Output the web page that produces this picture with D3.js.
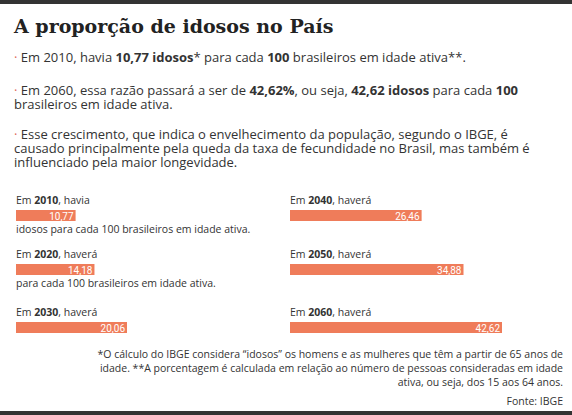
<!DOCTYPE html>
<html><head><meta charset="utf-8">
<script src="https://cdn.jsdelivr.net/npm/d3@7"></script>
<style>body{margin:0;background:#fff}</style></head>
<body><div id="chart"></div>
<script>
const years = ["2010", "2020", "2030", "2040", "2050", "2060"];
const values = [10.77, 14.18, 20.06, 26.46, 34.88, 42.62];
const verbs = [", havia", ", haverá", ", haverá", ", haverá", ", haverá", ", haverá"];
const notes = ["idosos para cada 100 brasileiros em idade ativa.", "para cada 100 brasileiros em idade ativa.", "", "", "", ""];

const W = 572, H = 415;
const svg = d3.select("#chart").append("svg").attr("width", W).attr("height", H)
  .style("font-family", "'Open Sans', sans-serif");
const ink = "#333";

svg.append("rect").attr("x", 0).attr("y", 0).attr("width", W).attr("height", 4).attr("fill", "#333");
svg.append("rect").attr("x", 0).attr("y", 411).attr("width", W).attr("height", 4).attr("fill", "#333");

svg.append("text").attr("x", 14).attr("y", 33)
  .style("font-family", "'DejaVu Serif', serif").style("font-weight", "bold")
  .style("font-size", "19px").attr("fill", "#222").text("A proporção de idosos no País");

// paragraph lines: array of [text, bold] runs
const para = [
  {y: 62, bullet: true, runs: [["Em 2010, havia ", 0], ["10,77 idosos", 1], ["* para cada ", 0], ["100", 1], [" brasileiros em idade ativa**.", 0]]},
  {y: 95, bullet: true, runs: [["Em 2060, essa razão passará a ser de ", 0], ["42,62%", 1], [", ou seja, ", 0], ["42,62 idosos", 1], ["  para cada ", 0], ["100", 1]]},
  {y: 109, runs: [["brasileiros em idade ativa.", 0]]},
  {y: 139, bullet: true, runs: [["Esse crescimento, que indica o envelhecimento da população, segundo  o IBGE, é", 0]]},
  {y: 153, runs: [["causado principalmente pela queda da taxa de fecundidade no Brasil, mas também é", 0]]},
  {y: 167, runs: [["influenciado pela maior longevidade.", 0]]}
];
para.forEach(p => {
  const t = svg.append("text").attr("x", 14).attr("y", p.y).style("font-size", "13px").attr("fill", ink);
  if (p.bullet) t.append("tspan").attr("fill", "#e06a5a").text("· ");
  p.runs.forEach(r => t.append("tspan").style("font-weight", r[1] ? "bold" : "normal").text(r[0]));
});

const orange = "#ef7c5a";
const xl = d3.scaleLinear().domain([0, values[2]]).range([0, 111]);
const xr = d3.scaleLinear().domain([0, values[5]]).range([0, 212]);
const rowY = [210, 264, 322];

years.forEach((yr, i) => {
  const col = i < 3 ? 0 : 1;
  const x0 = col ? 290 : 16;
  const sc = col ? xr : xl;
  const by = rowY[i % 3];
  const lab = svg.append("text").attr("x", x0).attr("y", by - 6).style("font-size", "10.5px").attr("fill", ink);
  lab.append("tspan").text("Em ");
  lab.append("tspan").style("font-weight", "bold").text(yr);
  lab.append("tspan").text(verbs[i]);
  const w = sc(values[i]);
  svg.append("rect").attr("x", x0).attr("y", by).attr("width", w).attr("height", 11).attr("fill", orange);
  svg.append("text").attr("x", x0 + w - 2).attr("y", by + 9.5).attr("text-anchor", "end")
    .style("font-size", "10px").style("font-family", "'Liberation Sans Narrow', 'Roboto', sans-serif")
    .attr("fill", "#fff").text(d3.format(".2f")(values[i]).replace(".", ","));
  if (notes[i]) svg.append("text").attr("x", x0).attr("y", by + 23).style("font-size", "10.5px").attr("fill", ink).text(notes[i]);
});

const foot = ["*O cálculo do IBGE considera “idosos” os homens e as mulheres  que têm a partir de 65 anos de",
  "idade. **A porcentagem é calculada em relação ao número de pessoas  consideradas em idade",
  "ativa, ou seja, dos 15 aos 64 anos."];
foot.forEach((f, i) => svg.append("text").attr("x", 563).attr("y", 358 + i * 14).attr("text-anchor", "end")
  .style("font-size", "10.5px").attr("fill", ink).text(f));
svg.append("text").attr("x", 563).attr("y", 405).attr("text-anchor", "end")
  .style("font-size", "10.5px").attr("fill", ink).text("Fonte: IBGE");
</script></body></html>
